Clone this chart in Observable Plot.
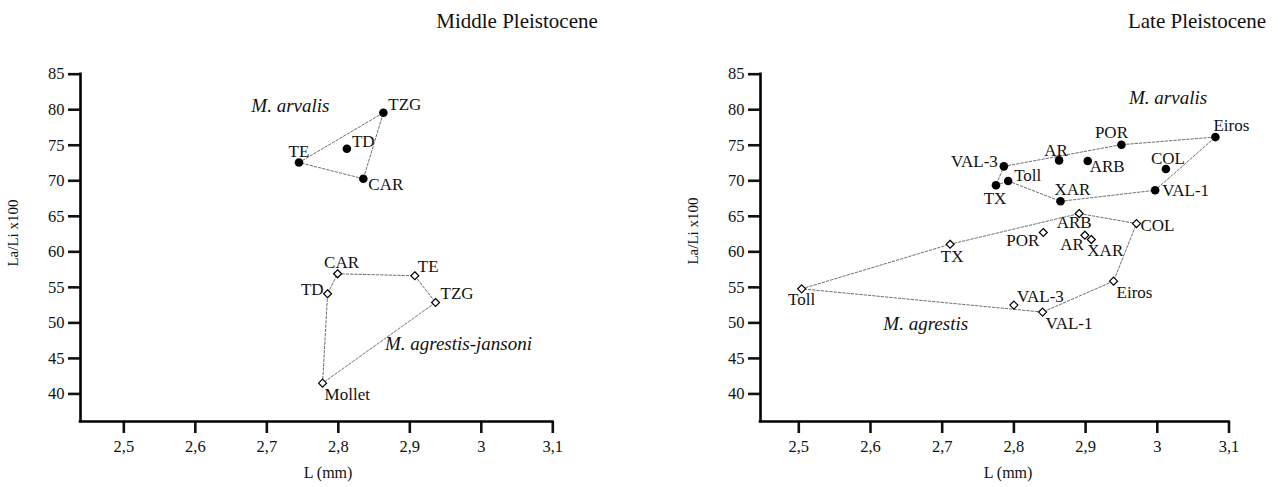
<!DOCTYPE html>
<html>
<head>
<meta charset="utf-8">
<script src="https://cdn.jsdelivr.net/npm/d3@7"></script>
<script src="https://cdn.jsdelivr.net/npm/@observablehq/plot@0.6"></script>
<style>
  html, body { margin: 0; padding: 0; background: #fff; }
  #root { position: relative; width: 1280px; height: 487px; overflow: hidden; font-family: "Liberation Serif", "Times New Roman", serif; color: #111; }
  .panel { position: absolute; top: 0; }
  .panel g[aria-label="x-axis tick label"], .panel g[aria-label="y-axis tick label"] { font-size: 16.5px; }
  .title { position: absolute; font-size: 21px; white-space: nowrap; transform: translate(-50%, -50%); }
  .xlab { position: absolute; font-size: 16px; white-space: nowrap; transform: translate(-50%, -50%); }
  .ylab { position: absolute; font-size: 15px; white-space: nowrap; transform: translate(-50%, -50%) rotate(-90deg); }
</style>
</head>
<body>
<div id="root"></div>
<script>
// ---------- data ----------
const xTicks = [2.5, 2.6, 2.7, 2.8, 2.9, 3.0, 3.1];
const yTicks = [40, 45, 50, 55, 60, 65, 70, 75, 80, 85];
const panelTitles = ["Middle Pleistocene", "Late Pleistocene"];
const xLabel = "L (mm)";
const yLabel = "La/Li x100";

// Middle Pleistocene – M. arvalis (filled circles)
const midArvSites = ["TE", "TZG", "TD", "CAR"];
const midArvL     = [2.745, 2.863, 2.812, 2.835];
const midArvLaLi  = [72.57, 79.57, 74.50, 70.28];
const midArvHull  = ["TE", "TZG", "CAR", "TE"];

// Middle Pleistocene – M. agrestis-jansoni (open diamonds)
const midAgrSites = ["CAR", "TE", "TD", "TZG", "Mollet"];
const midAgrL     = [2.799, 2.907, 2.785, 2.936, 2.778];
const midAgrLaLi  = [56.91, 56.63, 54.10, 52.87, 41.52];
const midAgrHull  = ["Mollet", "TD", "CAR", "TE", "TZG", "Mollet"];

// Late Pleistocene – M. arvalis (filled circles)
const lateArvSites = ["Eiros", "POR", "AR", "ARB", "VAL-3", "COL", "Toll", "TX", "VAL-1", "XAR"];
const lateArvL     = [3.081, 2.950, 2.863, 2.903, 2.786, 3.012, 2.792, 2.775, 2.997, 2.865];
const lateArvLaLi  = [76.15, 75.08, 72.87, 72.78, 72.03, 71.65, 69.97, 69.36, 68.66, 67.11];
const lateArvHull  = ["VAL-3", "POR", "Eiros", "VAL-1", "XAR", "Toll", "TX", "VAL-3"];

// Late Pleistocene – M. agrestis (open diamonds)
const lateAgrSites = ["ARB", "COL", "POR", "AR", "XAR", "TX", "Eiros", "Toll", "VAL-3", "VAL-1"];
const lateAgrL     = [2.891, 2.971, 2.841, 2.899, 2.908, 2.711, 2.939, 2.504, 2.800, 2.840];
const lateAgrLaLi  = [65.39, 63.98, 62.72, 62.34, 61.73, 61.07, 55.87, 54.79, 52.50, 51.52];
const lateAgrHull  = ["Toll", "TX", "ARB", "COL", "Eiros", "VAL-1", "Toll"];

// species annotations (data coordinates)
const midSpeciesNames = ["M. arvalis", "M. agrestis-jansoni"];
const midSpeciesL     = [2.733, 2.968];
const midSpeciesLaLi  = [80.6, 47.1];
const lateSpeciesNames = ["M. arvalis", "M. agrestis"];
const lateSpeciesL     = [3.015, 2.677];
const lateSpeciesLaLi  = [81.6, 49.8];

// ---------- label placement (anchor, dx, dy) ----------
const place = {
  midArv:  {TE: ["middle", 0, -11], TZG: ["start", 5, -8], TD: ["start", 5, -7], CAR: ["start", 5, 6]},
  midAgr:  {CAR: ["middle", 4, -11], TE: ["start", 3, -9], TD: ["end", -4, -4], TZG: ["start", 5, -9], Mollet: ["start", 2, 11]},
  lateArv: {"Eiros": ["start", -2, -12], "POR": ["middle", -10, -12], "AR": ["middle", -3, -10], "ARB": ["start", 2, 6],
            "VAL-3": ["end", -6, -5], "COL": ["middle", 2, -11], "Toll": ["start", 6, -5], "TX": ["middle", -1, 13],
            "VAL-1": ["start", 7, 0], "XAR": ["middle", 12, -12]},
  lateAgr: {"ARB": ["middle", -5, 9], "COL": ["start", 4, 2], "POR": ["end", -4, 8], "AR": ["end", -1, 9],
            "XAR": ["start", -4, 11], "TX": ["middle", 2, 12], "Eiros": ["start", 3, 11], "Toll": ["middle", 0, 11],
            "VAL-3": ["start", 3, -9], "VAL-1": ["start", 3, 11]}
};

// ---------- helpers ----------
const toRows = (sites, L, R) => sites.map((s, i) => ({site: s, L: L[i], R: R[i]}));
const hullRows = (rows, order) => order.map(s => rows.find(r => r.site === s));
const tickFmt = d => String(+d.toFixed(1)).replace(".", ",");

function seriesMarks(rows, hull, filled, placement) {
  const marks = [];
  marks.push(Plot.line(hullRows(rows, hull), {x: "L", y: "R", stroke: "#555", strokeWidth: 0.85, strokeDasharray: "2.5,1.8"}));
  if (filled) {
    marks.push(Plot.dot(rows, {x: "L", y: "R", r: 4.3, fill: "#000", stroke: "none"}));
  } else {
    marks.push(Plot.dot(rows, {x: "L", y: "R", symbol: "diamond2", r: 3.6, fill: "#fff", stroke: "#000", strokeWidth: 1.2}));
  }
  rows.forEach(r => {
    const p = placement[r.site];
    marks.push(Plot.text([r], {x: "L", y: "R", text: "site", textAnchor: p[0], dx: p[1], dy: p[2], fontSize: 17, fill: "#111"}));
  });
  return marks;
}

function panel(opts) {
  const {xDomain, marginLeft, marginRight, series, species} = opts;
  const yDomain = [36.12, 85];
  return Plot.plot({
    width: 640,
    height: 487,
    marginLeft, marginRight,
    marginTop: 73.7,
    marginBottom: 66,
    x: {domain: xDomain},
    y: {domain: yDomain},
    style: {fontFamily: "'Liberation Serif', 'Times New Roman', serif", fontSize: "17px", color: "#111", background: "transparent", overflow: "visible"},
    marks: [
      Plot.axisX({ticks: xTicks, tickFormat: tickFmt, tickSize: 12, tickPadding: 7, strokeWidth: 2.6, fontSize: 16.5, label: null}),
      Plot.axisY({ticks: yTicks, tickSize: 12, tickPadding: 4, strokeWidth: 2.6, fontSize: 16.5, label: null}),
      Plot.ruleY([yDomain[0]], {stroke: "#000", strokeWidth: 2.6, strokeLinecap: "square"}),
      Plot.ruleX([xDomain[0]], {stroke: "#000", strokeWidth: 2.6, strokeLinecap: "square"}),
      ...series.flatMap(s => seriesMarks(s.rows, s.hull, s.filled, s.place)),
      Plot.text(species.names.map((n, i) => ({n, L: species.L[i], R: species.R[i]})),
        {x: "L", y: "R", text: "n", fontSize: 19, fontStyle: "italic", fill: "#111"})
    ]
  });
}

const root = document.getElementById("root");

const left = panel({
  xDomain: [2.4394, 3.1], marginLeft: 80, marginRight: 87.7,
  series: [
    {rows: toRows(midArvSites, midArvL, midArvLaLi), hull: midArvHull, filled: true, place: place.midArv},
    {rows: toRows(midAgrSites, midAgrL, midAgrLaLi), hull: midAgrHull, filled: false, place: place.midAgr}
  ],
  species: {names: midSpeciesNames, L: midSpeciesL, R: midSpeciesLaLi}
});
left.classList.add("panel");
left.style.left = "0px";
root.appendChild(left);

const right = panel({
  xDomain: [2.4466, 3.1], marginLeft: 120, marginRight: 51.5,
  series: [
    {rows: toRows(lateArvSites, lateArvL, lateArvLaLi), hull: lateArvHull, filled: true, place: place.lateArv},
    {rows: toRows(lateAgrSites, lateAgrL, lateAgrLaLi), hull: lateAgrHull, filled: false, place: place.lateAgr}
  ],
  species: {names: lateSpeciesNames, L: lateSpeciesL, R: lateSpeciesLaLi}
});
right.classList.add("panel");
right.style.left = "640px";
root.appendChild(right);

// titles and axis labels
function addText(cls, text, x, y) {
  const d = document.createElement("div");
  d.className = cls;
  d.textContent = text;
  d.style.left = x + "px";
  d.style.top = y + "px";
  root.appendChild(d);
}
addText("title", panelTitles[0], 517, 21);
addText("title", panelTitles[1], 1197, 21);
addText("xlab", xLabel, 328, 473);
addText("xlab", xLabel, 1008, 473);
addText("ylab", yLabel, 13, 233);
addText("ylab", yLabel, 693, 231);
</script>
</body>
</html>
